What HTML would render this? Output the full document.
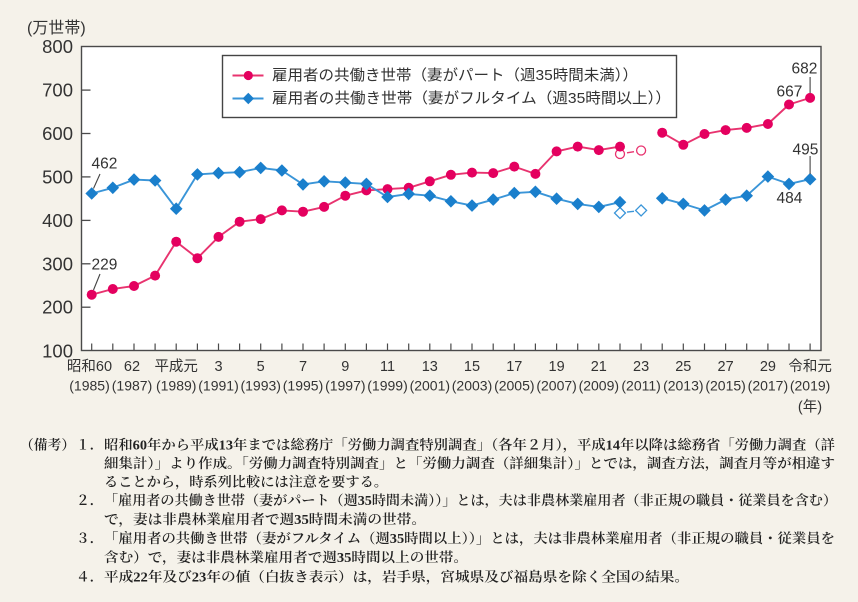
<!DOCTYPE html>
<html><head><meta charset="utf-8"><style>
html,body{margin:0;padding:0;background:#f5f2ea;}
svg{display:block;}
.s{font-family:"Liberation Sans","Noto Sans CJK JP",sans-serif;fill:#333;}
.j{font-family:"Liberation Sans","Noto Sans CJK JP",sans-serif;fill:#333;}
.m{font-family:"Liberation Serif","Noto Serif CJK SC",serif;fill:#222;font-size:13.8px;font-weight:600;}
</style></head><body>
<svg width="858" height="602" viewBox="0 0 858 602" xmlns="http://www.w3.org/2000/svg">
<defs>
<path id="dm" d="M0,-6.3 L6.3,0 L0,6.3 L-6.3,0Z" fill="#1a7fcc"/>
<path id="dmo" d="M0,-5.5 L5.5,0 L0,5.5 L-5.5,0Z" fill="#fff" stroke="#3a95d8" stroke-width="1.3"/>
</defs>
<rect x="0" y="0" width="858" height="602" fill="#f5f2ea"/>
<rect x="81.5" y="46.5" width="739.5" height="304" fill="#fff" stroke="#4a4a4a" stroke-width="1.4"/>
<g stroke="#4a4a4a" stroke-width="1.3">
<line x1="81.5" y1="90.1" x2="90.5" y2="90.1"/>
<line x1="81.5" y1="133.5" x2="90.5" y2="133.5"/>
<line x1="81.5" y1="176.9" x2="90.5" y2="176.9"/>
<line x1="81.5" y1="220.4" x2="90.5" y2="220.4"/>
<line x1="81.5" y1="263.8" x2="90.5" y2="263.8"/>
<line x1="81.5" y1="307.2" x2="90.5" y2="307.2"/>
</g>
<g stroke="#4a4a4a" stroke-width="1.2">
<line x1="91.7" y1="350.5" x2="91.7" y2="343.5"/><line x1="112.8" y1="350.5" x2="112.8" y2="343.5"/><line x1="134.0" y1="350.5" x2="134.0" y2="343.5"/><line x1="155.1" y1="350.5" x2="155.1" y2="343.5"/><line x1="176.2" y1="350.5" x2="176.2" y2="343.5"/><line x1="197.4" y1="350.5" x2="197.4" y2="343.5"/><line x1="218.5" y1="350.5" x2="218.5" y2="343.5"/><line x1="239.6" y1="350.5" x2="239.6" y2="343.5"/><line x1="260.7" y1="350.5" x2="260.7" y2="343.5"/><line x1="281.9" y1="350.5" x2="281.9" y2="343.5"/><line x1="303.0" y1="350.5" x2="303.0" y2="343.5"/><line x1="324.1" y1="350.5" x2="324.1" y2="343.5"/><line x1="345.3" y1="350.5" x2="345.3" y2="343.5"/><line x1="366.4" y1="350.5" x2="366.4" y2="343.5"/><line x1="387.5" y1="350.5" x2="387.5" y2="343.5"/><line x1="408.7" y1="350.5" x2="408.7" y2="343.5"/><line x1="429.8" y1="350.5" x2="429.8" y2="343.5"/><line x1="450.9" y1="350.5" x2="450.9" y2="343.5"/><line x1="472.0" y1="350.5" x2="472.0" y2="343.5"/><line x1="493.2" y1="350.5" x2="493.2" y2="343.5"/><line x1="514.3" y1="350.5" x2="514.3" y2="343.5"/><line x1="535.4" y1="350.5" x2="535.4" y2="343.5"/><line x1="556.6" y1="350.5" x2="556.6" y2="343.5"/><line x1="577.7" y1="350.5" x2="577.7" y2="343.5"/><line x1="598.8" y1="350.5" x2="598.8" y2="343.5"/><line x1="620.0" y1="350.5" x2="620.0" y2="343.5"/><line x1="641.1" y1="350.5" x2="641.1" y2="343.5"/><line x1="662.2" y1="350.5" x2="662.2" y2="343.5"/><line x1="683.3" y1="350.5" x2="683.3" y2="343.5"/><line x1="704.5" y1="350.5" x2="704.5" y2="343.5"/><line x1="725.6" y1="350.5" x2="725.6" y2="343.5"/><line x1="746.7" y1="350.5" x2="746.7" y2="343.5"/><line x1="767.9" y1="350.5" x2="767.9" y2="343.5"/><line x1="789.0" y1="350.5" x2="789.0" y2="343.5"/><line x1="810.1" y1="350.5" x2="810.1" y2="343.5"/>
</g>
<g class="s" font-size="18.5" text-anchor="end" dominant-baseline="central">
<text x="73" y="46.5">800</text>
<text x="73" y="90.1">700</text>
<text x="73" y="133.5">600</text>
<text x="73" y="176.9">500</text>
<text x="73" y="220.4">400</text>
<text x="73" y="263.8">300</text>
<text x="73" y="307.2">200</text>
<text x="73" y="351">100</text>
</g>
<text class="j" x="27" y="28.5" font-size="16" dominant-baseline="central">(万世帯)</text>
<g class="j" font-size="14.5" text-anchor="middle" dominant-baseline="central">
<text x="89.5" y="367">昭和60</text>
<text x="132" y="367">62</text>
<text x="176.2" y="367">平成元</text>
<text x="218.5" y="367">3</text>
<text x="260.7" y="367">5</text>
<text x="303.0" y="367">7</text>
<text x="345.3" y="367">9</text>
<text x="387.5" y="367">11</text>
<text x="429.8" y="367">13</text>
<text x="472.0" y="367">15</text>
<text x="514.3" y="367">17</text>
<text x="556.6" y="367">19</text>
<text x="598.8" y="367">21</text>
<text x="641.1" y="367">23</text>
<text x="683.3" y="367">25</text>
<text x="725.6" y="367">27</text>
<text x="767.9" y="367">29</text>
<text x="810.1" y="367">令和元</text>
</g>
<g class="s" font-size="14" text-anchor="middle" dominant-baseline="central">
<text x="89.5" y="385.5">(1985)</text>
<text x="132" y="385.5">(1987)</text>
<text x="176.2" y="385.5">(1989)</text>
<text x="218.5" y="385.5">(1991)</text>
<text x="260.7" y="385.5">(1993)</text>
<text x="303.0" y="385.5">(1995)</text>
<text x="345.3" y="385.5">(1997)</text>
<text x="387.5" y="385.5">(1999)</text>
<text x="429.8" y="385.5">(2001)</text>
<text x="472.0" y="385.5">(2003)</text>
<text x="514.3" y="385.5">(2005)</text>
<text x="556.6" y="385.5">(2007)</text>
<text x="598.8" y="385.5">(2009)</text>
<text x="641.1" y="385.5">(2011)</text>
<text x="683.3" y="385.5">(2013)</text>
<text x="725.6" y="385.5">(2015)</text>
<text x="767.9" y="385.5">(2017)</text>
<text x="810.1" y="385.5">(2019)</text>
</g>
<text class="j" x="810" y="407.5" font-size="14.5" text-anchor="middle" dominant-baseline="central">(年)</text>

<g fill="none" stroke="#e8336f" stroke-width="1.9" stroke-linejoin="round">
<polyline points="91.7,294.7 112.8,289.0 134.0,286.0 155.1,275.6 176.2,241.7 197.4,258.2 218.5,236.9 239.6,221.7 260.7,219.1 281.9,210.4 303.0,211.7 324.1,206.9 345.3,195.7 366.4,190.4 387.5,189.1 408.7,187.8 429.8,181.3 450.9,174.8 472.0,172.6 493.2,173.1 514.3,166.6 535.4,173.9 556.6,151.4 577.7,146.6 598.8,150.1 620.0,146.6"/>
<polyline points="662.2,132.7 683.3,144.8 704.5,134.0 725.6,130.1 746.7,127.9 767.9,124.0 789.0,104.5 810.1,97.9"/>
<line x1="627" y1="152.8" x2="634" y2="151.7" stroke-width="1.4"/>
</g>
<g fill="none" stroke="#3a95d8" stroke-width="1.9" stroke-linejoin="round">
<polyline points="91.7,193.5 112.8,187.8 134.0,179.6 155.1,180.5 176.2,208.7 197.4,174.4 218.5,173.1 239.6,172.2 260.7,167.9 281.9,170.5 303.0,184.4 324.1,181.3 345.3,182.6 366.4,183.9 387.5,197.0 408.7,193.9 429.8,195.7 450.9,201.3 472.0,205.6 493.2,199.6 514.3,193.1 535.4,191.8 556.6,198.7 577.7,203.9 598.8,206.9 620.0,202.2"/>
<polyline points="662.2,198.3 683.3,203.9 704.5,210.4 725.6,199.6 746.7,195.7 767.9,176.6 789.0,183.9 810.1,179.2"/>
<line x1="627" y1="212.1" x2="634" y2="211.3" stroke-width="1.4"/>
</g>
<circle cx="620.0" cy="154.0" r="4.5" fill="#fff" stroke="#e8336f" stroke-width="1.3"/>
<circle cx="641.1" cy="150.5" r="4.5" fill="#fff" stroke="#e8336f" stroke-width="1.3"/>
<use href="#dmo" x="620.0" y="213.0"/>
<use href="#dmo" x="641.1" y="210.4"/>
<g fill="#e4005f">
<circle cx="91.7" cy="294.7" r="5"/><circle cx="112.8" cy="289.0" r="5"/><circle cx="134.0" cy="286.0" r="5"/><circle cx="155.1" cy="275.6" r="5"/><circle cx="176.2" cy="241.7" r="5"/><circle cx="197.4" cy="258.2" r="5"/><circle cx="218.5" cy="236.9" r="5"/><circle cx="239.6" cy="221.7" r="5"/><circle cx="260.7" cy="219.1" r="5"/><circle cx="281.9" cy="210.4" r="5"/><circle cx="303.0" cy="211.7" r="5"/><circle cx="324.1" cy="206.9" r="5"/><circle cx="345.3" cy="195.7" r="5"/><circle cx="366.4" cy="190.4" r="5"/><circle cx="387.5" cy="189.1" r="5"/><circle cx="408.7" cy="187.8" r="5"/><circle cx="429.8" cy="181.3" r="5"/><circle cx="450.9" cy="174.8" r="5"/><circle cx="472.0" cy="172.6" r="5"/><circle cx="493.2" cy="173.1" r="5"/><circle cx="514.3" cy="166.6" r="5"/><circle cx="535.4" cy="173.9" r="5"/><circle cx="556.6" cy="151.4" r="5"/><circle cx="577.7" cy="146.6" r="5"/><circle cx="598.8" cy="150.1" r="5"/><circle cx="620.0" cy="146.6" r="5"/>
<circle cx="662.2" cy="132.7" r="5"/><circle cx="683.3" cy="144.8" r="5"/><circle cx="704.5" cy="134.0" r="5"/><circle cx="725.6" cy="130.1" r="5"/><circle cx="746.7" cy="127.9" r="5"/><circle cx="767.9" cy="124.0" r="5"/><circle cx="789.0" cy="104.5" r="5"/><circle cx="810.1" cy="97.9" r="5"/>
</g>
<use href="#dm" x="91.7" y="193.5"/><use href="#dm" x="112.8" y="187.8"/><use href="#dm" x="134.0" y="179.6"/><use href="#dm" x="155.1" y="180.5"/><use href="#dm" x="176.2" y="208.7"/><use href="#dm" x="197.4" y="174.4"/><use href="#dm" x="218.5" y="173.1"/><use href="#dm" x="239.6" y="172.2"/><use href="#dm" x="260.7" y="167.9"/><use href="#dm" x="281.9" y="170.5"/><use href="#dm" x="303.0" y="184.4"/><use href="#dm" x="324.1" y="181.3"/><use href="#dm" x="345.3" y="182.6"/><use href="#dm" x="366.4" y="183.9"/><use href="#dm" x="387.5" y="197.0"/><use href="#dm" x="408.7" y="193.9"/><use href="#dm" x="429.8" y="195.7"/><use href="#dm" x="450.9" y="201.3"/><use href="#dm" x="472.0" y="205.6"/><use href="#dm" x="493.2" y="199.6"/><use href="#dm" x="514.3" y="193.1"/><use href="#dm" x="535.4" y="191.8"/><use href="#dm" x="556.6" y="198.7"/><use href="#dm" x="577.7" y="203.9"/><use href="#dm" x="598.8" y="206.9"/><use href="#dm" x="620.0" y="202.2"/>
<use href="#dm" x="662.2" y="198.3"/><use href="#dm" x="683.3" y="203.9"/><use href="#dm" x="704.5" y="210.4"/><use href="#dm" x="725.6" y="199.6"/><use href="#dm" x="746.7" y="195.7"/><use href="#dm" x="767.9" y="176.6"/><use href="#dm" x="789.0" y="183.9"/><use href="#dm" x="810.1" y="179.2"/>

<g stroke="#444" stroke-width="1.1">
<line x1="100" y1="174" x2="93.5" y2="188.5"/>
<line x1="100" y1="274" x2="93.5" y2="290"/>
<line x1="810.1" y1="77" x2="810.1" y2="93"/>
<line x1="810.1" y1="156" x2="810.1" y2="174"/>
</g>
<g class="s" font-size="15.5" dominant-baseline="central">
<text x="91.5" y="164">462</text>
<text x="91.5" y="265">229</text>
<text x="791.5" y="69">682</text>
<text x="776.5" y="92">667</text>
<text x="792.5" y="150">495</text>
<text x="776.5" y="198.5">484</text>
</g>

<rect x="222.5" y="55.5" width="454" height="62" fill="#fff" stroke="#444" stroke-width="1.4"/>
<line x1="232.5" y1="75.5" x2="263.5" y2="75.5" stroke="#e8336f" stroke-width="1.9"/>
<circle cx="248.3" cy="75.5" r="4.6" fill="#e4005f"/>
<line x1="232.5" y1="98.5" x2="263.5" y2="98.5" stroke="#3a95d8" stroke-width="1.9"/>
<path d="M248.3,92.8 L254,98.5 L248.3,104.2 L242.6,98.5Z" fill="#1a7fcc"/>
<g class="j" font-size="15" dominant-baseline="central">
<text x="272" y="75.5" textLength="366" lengthAdjust="spacingAndGlyphs">雇用者の共働き世帯（妻がパート（週35時間未満））</text>
<text x="272" y="98.5" textLength="399" lengthAdjust="spacingAndGlyphs">雇用者の共働き世帯（妻がフルタイム（週35時間以上））</text>
</g>

<g class="m" dominant-baseline="central">
<text x="20" y="445">（備考）</text>
<text x="76" y="445">１．</text>
<text x="104" y="445" textLength="731" lengthAdjust="spacingAndGlyphs">昭和60年から平成13年までは総務庁「労働力調査特別調査」（各年２月），平成14年以降は総務省「労働力調査（詳</text>
<text x="104" y="463.5" textLength="731" lengthAdjust="spacingAndGlyphs">細集計）」より作成。「労働力調査特別調査」と「労働力調査（詳細集計）」とでは，調査方法，調査月等が相違す</text>
<text x="104" y="482" textLength="284" lengthAdjust="spacingAndGlyphs">ることから，時系列比較には注意を要する。</text>
<text x="76" y="500.5">２．</text>
<text x="104" y="500.5" textLength="733" lengthAdjust="spacingAndGlyphs">「雇用者の共働き世帯（妻がパート（週35時間未満））」とは，夫は非農林業雇用者（非正規の職員・従業員を含む）</text>
<text x="104" y="519.5" textLength="322" lengthAdjust="spacingAndGlyphs">で，妻は非農林業雇用者で週35時間未満の世帯。</text>
<text x="76" y="538.5">３．</text>
<text x="104" y="538.5" textLength="731" lengthAdjust="spacingAndGlyphs">「雇用者の共働き世帯（妻がフルタイム（週35時間以上））」とは，夫は非農林業雇用者（非正規の職員・従業員を</text>
<text x="104" y="557.5" textLength="364" lengthAdjust="spacingAndGlyphs">含む）で，妻は非農林業雇用者で週35時間以上の世帯。</text>
<text x="76" y="577">４．</text>
<text x="104" y="577" textLength="585" lengthAdjust="spacingAndGlyphs">平成22年及び23年の値（白抜き表示）は，岩手県，宮城県及び福島県を除く全国の結果。</text>
</g>
</svg>
</body></html>
